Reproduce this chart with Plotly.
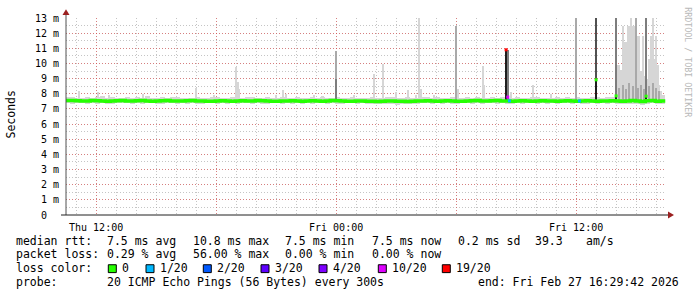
import pandas as pd
import plotly.graph_objects as go

# ---------------- data ----------------
first_step = "2026-02-26 10:30:00"   # first 5-minute RRD step
step_minutes = 5
bin_steps = 3                        # baseline arrays: one value per 15 minutes
range_start = "2026-02-26 10:29:42"
range_end = "2026-02-27 16:29:42"

# median RTT in ms, one value per 15 minutes
median_ms = [
    7.55, 7.56, 7.54, 7.52, 7.53, 7.55, 7.54, 7.52, 7.51, 7.53, 7.54, 7.55,
    7.53, 7.52, 7.54, 7.55, 7.53, 7.51, 7.52, 7.54, 7.55, 7.53, 7.52, 7.53,
    7.54, 7.55, 7.53, 7.52, 7.50, 7.51, 7.53, 7.54, 7.52, 7.51, 7.53, 7.54,
    7.52, 7.53, 7.55, 7.54, 7.52, 7.51, 7.50, 7.52, 7.53, 7.54, 7.52, 7.51,
    7.53, 7.54, 7.52, 7.51, 7.53, 7.55, 7.54, 7.52, 7.50, 7.51, 7.53, 7.52,
    7.51, 7.50, 7.49, 7.50, 7.52, 7.53, 7.51, 7.50, 7.49, 7.51, 7.52, 7.53,
    7.54, 7.52, 7.51, 7.53, 7.54, 7.52, 7.50, 7.51, 7.53, 7.54, 7.55, 7.53,
    7.52, 7.54, 7.55, 7.53, 7.52, 7.51, 7.53, 7.54, 7.52, 7.51, 7.53, 7.54,
    7.53, 7.52, 7.51, 7.53, 7.54, 7.52, 7.51, 7.52, 7.54, 7.53, 7.51, 7.52,
    7.53, 7.54, 7.52, 7.50, 7.53, 7.55, 7.52, 7.49, 7.54, 7.55, 7.51, 7.53,
]

# highest / lowest ping of the smoke, one value per 15 minutes
smoke_hi_ms = [
    7.78, 7.82, 7.75, 7.72, 7.80, 7.74, 7.76, 7.85, 7.73, 7.78, 7.72, 7.75,
    7.80, 7.74, 7.77, 7.72, 7.83, 7.75, 7.72, 7.78, 7.74, 7.76, 7.82, 7.73,
    7.75, 7.72, 7.78, 7.74, 7.73, 7.80, 7.76, 7.72, 7.75, 7.78, 7.74, 7.73,
    7.76, 7.82, 7.74, 7.72, 7.77, 7.75, 7.73, 7.78, 7.74, 7.72, 7.79, 7.75,
    7.73, 7.76, 7.74, 7.78, 7.72, 7.75, 7.80, 7.74, 7.73, 7.77, 7.75, 7.72,
    7.74, 7.78, 7.72, 7.75, 7.82, 7.76, 7.73, 7.74, 7.78, 7.72, 7.75, 7.80,
    7.76, 7.73, 7.77, 7.74, 7.72, 7.79, 7.75, 7.73, 7.76, 7.74, 7.78, 7.75,
    7.73, 7.76, 7.74, 7.80, 7.75, 7.72, 7.77, 7.74, 7.73, 7.78, 7.76, 7.74,
    7.75, 7.72, 7.78, 7.74, 7.76, 7.73, 7.79, 7.75, 7.74, 7.80, 7.76, 7.73,
    7.78, 7.80, 8.05, 8.15, 8.10, 8.25, 8.30, 8.20, 8.35, 8.40, 8.25, 7.90,
]
smoke_lo_ms = [
    7.36, 7.32, 7.38, 7.40, 7.34, 7.37, 7.33, 7.39, 7.35, 7.31, 7.38, 7.36,
    7.39, 7.34, 7.37, 7.32, 7.38, 7.40, 7.35, 7.33, 7.37, 7.39, 7.34, 7.36,
    7.33, 7.38, 7.35, 7.30, 7.36, 7.39, 7.34, 7.37, 7.32, 7.38, 7.35, 7.40,
    7.37, 7.33, 7.39, 7.35, 7.31, 7.36, 7.38, 7.34, 7.37, 7.33, 7.39, 7.35,
    7.38, 7.34, 7.36, 7.40, 7.33, 7.37, 7.35, 7.31, 7.38, 7.36, 7.34, 7.39,
    7.33, 7.30, 7.32, 7.35, 7.31, 7.34, 7.29, 7.33, 7.30, 7.35, 7.32, 7.36,
    7.38, 7.34, 7.37, 7.33, 7.39, 7.35, 7.31, 7.36, 7.38, 7.34, 7.37, 7.35,
    7.36, 7.39, 7.33, 7.37, 7.35, 7.31, 7.38, 7.34, 7.36, 7.40, 7.33, 7.37,
    7.35, 7.38, 7.32, 7.36, 7.39, 7.34, 7.37, 7.33, 7.35, 7.38, 7.30, 7.36,
    7.34, 7.37, 7.32, 7.30, 7.35, 7.33, 7.31, 7.29, 7.34, 7.36, 7.32, 7.35,
]

# single 5-minute steps with high pings: step index, top of smoke (ms), shade 0..4
spike_step = [8, 19, 26, 46, 78, 89, 102, 103, 104, 126, 130, 132, 149, 154,
              162, 162, 173, 185, 190, 198, 205, 210, 212, 213, 221, 234, 235,
              250, 251, 264, 265, 267, 280, 291, 306, 318, 318, 330, 330,
              331, 332, 333, 334, 335, 336, 337, 338, 339, 340, 341, 342, 343,
              344, 345, 346, 347, 349, 350, 351, 352, 353, 354, 355, 356, 357,
              332, 334, 336, 338, 340, 343, 345, 347, 350, 352, 354, 356,
              342, 348, 348]
spike_top_ms = [8.2, 8.1, 7.95, 8.0, 8.35, 7.95, 9.75, 8.8, 8.3, 7.95, 8.25, 8.0, 7.9, 7.85,
                10.8, 9.0, 7.9, 9.3, 9.95, 8.1, 8.25, 7.95, 13.4, 8.3, 7.9, 12.5, 8.3,
                9.85, 8.6, 10.9, 10.9, 8.1, 8.55, 8.0, 13.4, 13.4, 8.95, 13.4, 7.95,
                9.9, 9.9, 9.6, 12.5, 11.4, 11.4, 12.5, 12.5, 13.4, 12.5, 12.5, 12.0, 11.8,
                11.8, 9.5, 11.8, 9.2, 9.0, 10.3, 11.8, 13.4, 10.3, 11.8, 9.9, 8.6, 8.2,
                8.4, 8.6, 8.3, 8.7, 8.5, 8.4, 8.6, 8.3, 8.5, 8.7, 8.4, 8.2,
                13.4, 13.4, 7.9]
spike_tone = [0, 0, 0, 0, 0, 0, 0, 0, 0, 0, 0, 0, 0, 0,
              1, 2, 0, 0, 0, 0, 0, 0, 0, 0, 0, 1, 0,
              0, 0, 4, 2, 0, 0, 0, 1, 3, 4, 2, 4,
              0, 0, 0, 0, 0, 0, 0, 0, 0, 0, 0, 0, 0,
              0, 0, 0, 0, 0, 0, 0, 0, 0, 0, 0, 0, 0,
              1, 1, 1, 1, 1, 1, 1, 1, 1, 1, 1, 1,
              1, 2, 4]

# median points of steps that had packet loss or jumped: step, ms, lost pings of 20
mark_step = [264, 265, 266, 308, 318, 330, 348]
mark_ms = [10.9, 7.78, 7.53, 7.52, 8.92, 7.86, 7.84]
mark_loss = [19, 10, 1, 1, 0, 0, 0]

loss_levels = [0, 1, 2, 3, 4, 10, 19]
loss_labels = ["0", "1/20", "2/20", "3/20", "4/20", "10/20", "19/20"]

x_tick_times = ["2026-02-26 12:00", "2026-02-26 18:00", "2026-02-27 00:00",
                "2026-02-27 06:00", "2026-02-27 12:00"]
x_tick_text = ["Thu 12:00", "", "Fri 00:00", "", "Fri 12:00"]
y_tick_vals = list(range(14))
y_tick_text = ["0\u00a0\u00a0"] + [f"{v} m" for v in range(1, 14)]

legend_rows = [
    ["median rtt:", "7.5 ms avg", "10.8 ms max", "7.5 ms min", "7.5 ms now", "0.2 ms sd", "39.3", "am/s"],
    ["packet loss:", "0.29 % avg", "56.00 % max", "0.00 % min", "0.00 % now"],
    ["loss color:"],
    ["probe:", "20 ICMP Echo Pings (56 Bytes) every 300s", "end: Fri Feb 27 16:29:42 2026"],
]

# ---------------- style ----------------
W, H = 697, 297
L, R, T, B = 66, 31, 15, 82
PW, PH = W - L - R, H - T - B
FONT = "DejaVu Sans Mono"
LOSS_COLORS = {0: "#26ff00", 1: "#00b8ff", 2: "#0059ff", 3: "#5e00ff",
               4: "#7e00ff", 10: "#dd00ff", 19: "#ff0000"}
TONE_COLORS = ["#d6d6d6", "#a9a9a9", "#7d7d7d", "#505050", "#1e1e1e"]
SPIKE_FLOOR = 7.45
SPIKE_WIDTH = 1.2          # in steps, so thin spikes render as solid pixels
ARROW = "#9b2020"


def px(x):
    return (x - L) / PW


def py(y):
    return (T + PH - y) / PH


t0 = pd.Timestamp(first_step)
step = pd.Timedelta(minutes=step_minutes)
step_ms = step.total_seconds() * 1000
nb = len(median_ms)

fig = go.Figure()

# baseline smoke
bin_centers = [t0 + step * (bin_steps * k + 1) for k in range(nb)]
fig.add_trace(go.Bar(
    x=bin_centers, base=smoke_lo_ms,
    y=[h - l for h, l in zip(smoke_hi_ms, smoke_lo_ms)],
    width=[step_ms * bin_steps] * nb,
    marker=dict(color=TONE_COLORS[0], line=dict(width=0)),
    hoverinfo="skip"))

# spikes, light first
for tone in range(len(TONE_COLORS)):
    idx = [j for j, t in enumerate(spike_tone) if t == tone]
    if not idx:
        continue
    fig.add_trace(go.Bar(
        x=[t0 + step * spike_step[j] for j in idx],
        base=[SPIKE_FLOOR] * len(idx),
        y=[spike_top_ms[j] - SPIKE_FLOOR for j in idx],
        width=[step_ms * SPIKE_WIDTH] * len(idx),
        marker=dict(color=TONE_COLORS[tone], line=dict(width=0)),
        hoverinfo="skip"))

# median line
edges = [t0 + step * (bin_steps * k) - step / 2 for k in range(nb + 1)]
fig.add_trace(go.Scatter(
    x=edges, y=median_ms + [median_ms[-1]], mode="lines",
    line=dict(color=LOSS_COLORS[0], width=3.5, shape="hv"),
    hoverinfo="skip"))

# loss-coloured median points
fig.add_trace(go.Scatter(
    x=[t0 + step * s for s in mark_step], y=mark_ms, mode="markers",
    marker=dict(symbol="square", size=3, color=[LOSS_COLORS[l] for l in mark_loss],
                line=dict(width=0)),
    hoverinfo="skip"))

grid_major = "rgba(225,70,70,0.55)"
grid_minor = "rgba(150,150,150,0.55)"
dash = "1px,2px"

fig.update_layout(
    width=W, height=H, margin=dict(l=L, r=R, t=T, b=B, pad=0),
    paper_bgcolor="white", plot_bgcolor="white",
    showlegend=False, barmode="overlay", bargap=0,
    font=dict(family=FONT, size=10, color="black"),
    xaxis=dict(
        type="date", range=[range_start, range_end],
        tickvals=x_tick_times, ticktext=x_tick_text,
        showgrid=True, gridcolor=grid_major, griddash=dash, gridwidth=1,
        ticks="outside", ticklen=3, tickcolor="rgba(0,0,0,0)",
        tickfont=dict(family=FONT, size=10),
        minor=dict(dtick=3600000, showgrid=True, gridcolor=grid_minor,
                   griddash=dash, gridwidth=1, ticks=""),
        zeroline=False, showline=False, fixedrange=True),
    yaxis=dict(
        range=[0, 13], tickvals=y_tick_vals, ticktext=y_tick_text,
        showgrid=True, gridcolor=grid_major, griddash=dash, gridwidth=1,
        ticks="outside", ticklen=4, tickcolor="rgba(0,0,0,0)",
        tickfont=dict(family=FONT, size=10),
        minor=dict(dtick=0.5, showgrid=True, gridcolor=grid_minor,
                   griddash=dash, gridwidth=1, ticks=""),
        zeroline=False, showline=False, fixedrange=True),
)

shapes = [
    dict(type="line", xref="paper", yref="paper", x0=0, x1=0, y0=0, y1=py(9),
         line=dict(color="#505050", width=1)),
    dict(type="line", xref="paper", yref="paper", x0=px(61), x1=px(669), y0=0, y1=0,
         line=dict(color="#202020", width=1)),
    dict(type="path", xref="paper", yref="paper",
         path=f"M {px(66)} {py(6)} L {px(62.5)} {py(12)} L {px(69.5)} {py(12)} Z",
         fillcolor=ARROW, line=dict(width=0)),
    dict(type="path", xref="paper", yref="paper",
         path=f"M {px(674)} {py(215)} L {px(668)} {py(211.5)} L {px(668)} {py(218.5)} Z",
         fillcolor=ARROW, line=dict(width=0)),
]

# legend colour boxes
box_left = [108.3, 146, 203.3, 261, 319, 378.3, 442.3]
for bx, lv in zip(box_left, loss_levels):
    shapes.append(dict(type="rect", xref="paper", yref="paper",
                       x0=px(bx), x1=px(bx + 8), y0=py(273.5), y1=py(265.5),
                       fillcolor=LOSS_COLORS[lv], line=dict(color="black", width=1)))
fig.update_layout(shapes=shapes)

ann = []


def text(x, y, s, size=11.5, color="black", angle=0, xanchor="left"):
    ann.append(dict(xref="paper", yref="paper", x=px(x), y=py(y), text=s,
                    showarrow=False, xanchor=xanchor, yanchor="middle",
                    textangle=angle, borderpad=0,
                    font=dict(family=FONT, size=size, color=color)))


row_x = [
    [16, 107.7, 193.3, 285, 372.7, 458.3, 535, 586.7],
    [16, 107.7, 193.3, 285, 372.7],
    [16],
    [16, 107.7, 478],
]
row_y = [241, 255, 269, 283]
for items, xs, yy in zip(legend_rows, row_x, row_y):
    for s, xx in zip(items, xs):
        text(xx - 1.5, yy, s)
for bx, lab in zip(box_left, loss_labels):
    text(bx + 13, 269, lab)

text(11, 113, "Seconds", size=11.5, angle=-90, xanchor="center")
text(688, 60, "RRDTOOL / TOBI OETIKER", size=8.3, color="#b8b8b8", angle=90, xanchor="center")
fig.update_layout(annotations=ann)

fig.write_html("out.html")
